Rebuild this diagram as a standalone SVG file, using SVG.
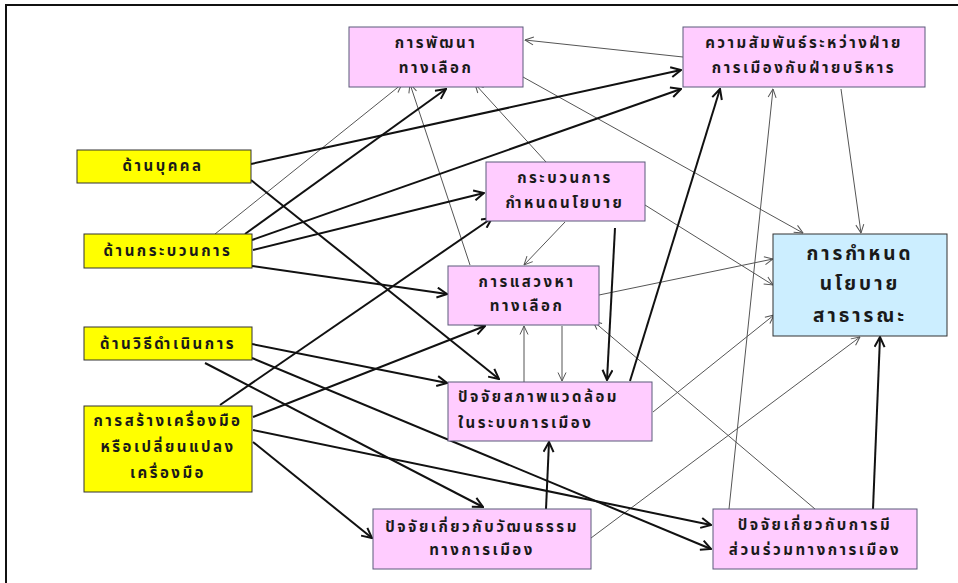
<svg xmlns="http://www.w3.org/2000/svg" width="958" height="583" viewBox="0 0 958 583">
<style>
.bg{fill:#ffffff}
.frame{fill:none;stroke:#111;stroke-width:2}
.pink{fill:#ffccff;stroke:#5a5a7a;stroke-width:1}
.yel{fill:#ffff00;stroke:#333;stroke-width:1}
.blue{fill:#cceeff;stroke:#333;stroke-width:1}
text{font-family:"Noto Sans","Noto Sans Thai","Loma","Garuda","Tlwg Typo",sans-serif;font-weight:bold;font-size:15px;fill:#1a1a1a;letter-spacing:2.5px}
.c{text-anchor:middle}
.big{font-size:19px;letter-spacing:3px}
.k{stroke:#111;stroke-width:2;fill:none;marker-end:url(#ak)}
.t{stroke:#555;stroke-width:1;fill:none;marker-end:url(#at)}
</style>
<defs>
<marker id="ak" markerUnits="userSpaceOnUse" markerWidth="12" markerHeight="12" viewBox="0 0 12 12" refX="11" refY="6" orient="auto">
<path d="M1,1 L11,6 L1,11" fill="none" stroke="#111" stroke-width="2"/>
</marker>
<marker id="at" markerUnits="userSpaceOnUse" markerWidth="10" markerHeight="10" viewBox="0 0 10 10" refX="9.5" refY="5" orient="auto">
<path d="M1,1 L9.5,5 L1,9" fill="none" stroke="#555" stroke-width="1"/>
</marker>
</defs>
<rect class="bg" x="0" y="0" width="958" height="583"/>
<path class="frame" d="M6,590 V5 H965"/>
<g id="connectors">
<line class="t" x1="215" y1="234" x2="402" y2="84"/>
<line class="t" x1="470" y1="265" x2="410" y2="84"/>
<line class="t" x1="546" y1="162" x2="475" y2="84"/>
<line class="t" x1="683" y1="57" x2="525" y2="40"/>
<line class="t" x1="523" y1="77" x2="803" y2="233"/>
<line class="t" x1="841" y1="89" x2="861" y2="233"/>
<line class="t" x1="565" y1="222" x2="524" y2="265"/>
<line class="t" x1="645" y1="205" x2="773" y2="285"/>
<line class="t" x1="599" y1="295" x2="773" y2="259"/>
<line class="t" x1="524" y1="382" x2="524" y2="326"/>
<line class="t" x1="562" y1="326" x2="562" y2="381"/>
<line class="t" x1="653" y1="412" x2="774" y2="315"/>
<line class="t" x1="591" y1="538" x2="860" y2="337"/>
<line class="t" x1="815" y1="509" x2="593" y2="321"/>
<line class="t" x1="729" y1="509" x2="773" y2="89"/>
<line class="k" x1="245" y1="234" x2="446" y2="89"/>
<line class="k" x1="251" y1="164" x2="681" y2="70"/>
<line class="k" x1="252" y1="240" x2="681" y2="89"/>
<line class="k" x1="253" y1="250" x2="484" y2="193"/>
<line class="k" x1="252" y1="266" x2="447" y2="294"/>
<line class="k" x1="251" y1="180" x2="499" y2="379"/>
<line class="k" x1="220" y1="405" x2="492" y2="218"/>
<line class="k" x1="253" y1="417" x2="485" y2="326"/>
<line class="k" x1="252" y1="344" x2="447" y2="383"/>
<line class="k" x1="252" y1="358" x2="711" y2="549"/>
<line class="k" x1="253" y1="430" x2="711" y2="525"/>
<line class="k" x1="205" y1="363" x2="483" y2="507"/>
<line class="k" x1="253" y1="442" x2="372" y2="538"/>
<line class="k" x1="546" y1="509" x2="549" y2="442"/>
<line class="k" x1="630" y1="381" x2="720" y2="89"/>
<line class="k" x1="615" y1="228" x2="607" y2="380"/>
<line class="k" x1="873" y1="509" x2="880" y2="337"/>
</g>
<g id="n-develop">
<rect class="pink" x="349" y="27" width="174" height="60"/>
<text class="c" x="436" y="48">การพัฒนา</text>
<text class="c" x="436" y="73">ทางเลือก</text>
</g>
<g id="n-relation">
<rect class="pink" x="683" y="27" width="242" height="60"/>
<text class="c" x="804" y="48">ความสัมพันธ์ระหว่างฝ่าย</text>
<text class="c" x="804" y="73">การเมืองกับฝ่ายบริหาร</text>
</g>
<g id="n-person">
<rect class="yel" x="77" y="150" width="174" height="33"/>
<text class="c" x="163" y="171">ด้านบุคคล</text>
</g>
<g id="n-process">
<rect class="yel" x="84" y="234" width="168" height="34"/>
<text class="c" x="168" y="256">ด้านกระบวนการ</text>
</g>
<g id="n-method">
<rect class="yel" x="84" y="327" width="168" height="33"/>
<text class="c" x="168" y="349">ด้านวิธีดำเนินการ</text>
</g>
<g id="n-tools">
<rect class="yel" x="84" y="406" width="168" height="86"/>
<text class="c" x="168" y="426">การสร้างเครื่องมือ</text>
<text class="c" x="168" y="452">หรือเปลี่ยนแปลง</text>
<text class="c" x="168" y="478">เครื่องมือ</text>
</g>
<g id="n-policyprocess">
<rect class="pink" x="486" y="162" width="159" height="59"/>
<text class="c" x="565" y="183">กระบวนการ</text>
<text class="c" x="565" y="208">กำหนดนโยบาย</text>
</g>
<g id="n-search">
<rect class="pink" x="448" y="266" width="151" height="59"/>
<text class="c" x="527" y="287">การแสวงหา</text>
<text class="c" x="527" y="311">ทางเลือก</text>
</g>
<g id="n-environment">
<rect class="pink" x="448" y="382" width="204" height="59"/>
<text x="458" y="402">ปัจจัยสภาพแวดล้อม</text>
<text x="458" y="428">ในระบบการเมือง</text>
</g>
<g id="n-culture">
<rect class="pink" x="373" y="509" width="218" height="60"/>
<text class="c" x="482" y="532">ปัจจัยเกี่ยวกับวัฒนธรรม</text>
<text class="c" x="482" y="555">ทางการเมือง</text>
</g>
<g id="n-participation">
<rect class="pink" x="713" y="509" width="204" height="60"/>
<text class="c" x="815" y="530">ปัจจัยเกี่ยวกับการมี</text>
<text class="c" x="815" y="555">ส่วนร่วมทางการเมือง</text>
</g>
<g id="n-public">
<rect class="blue" x="773" y="234" width="174" height="102"/>
<text class="c big" x="860" y="260">การกำหนด</text>
<text class="c big" x="860" y="290">นโยบาย</text>
<text class="c big" x="860" y="322">สาธารณะ</text>
</g>
</svg>
